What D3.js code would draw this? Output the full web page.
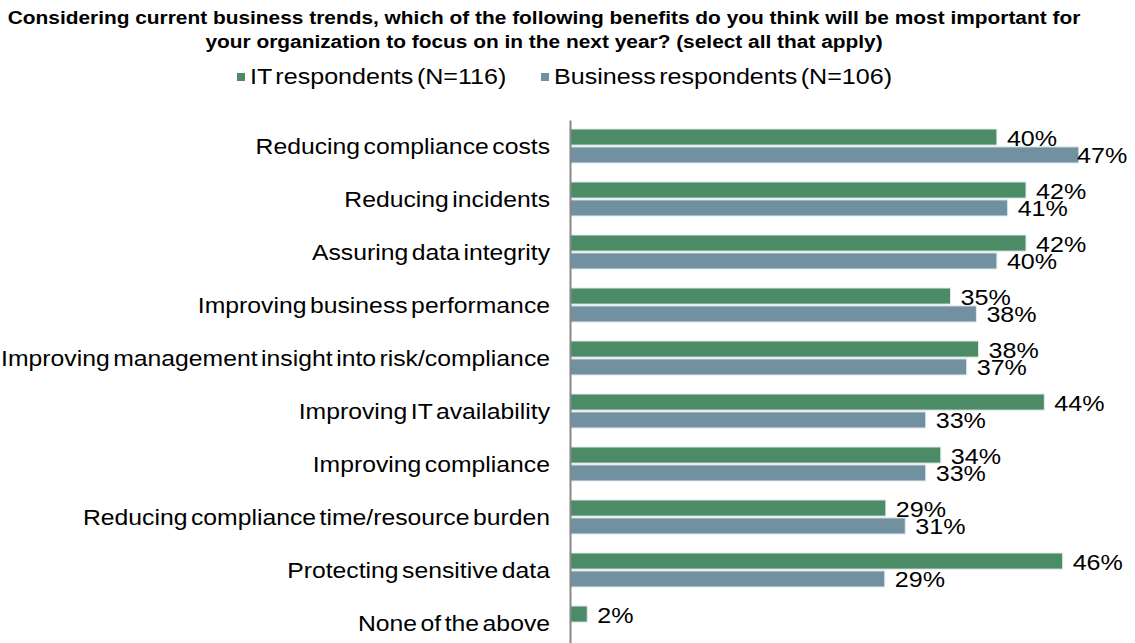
<!DOCTYPE html>
<html>
<head>
<meta charset="utf-8">
<script src="https://d3js.org/d3.v7.min.js"></script>
<style>
body { margin: 0; background: #fff; }
svg { font-family: "Liberation Sans", Arial, sans-serif; }
.title { font-weight: bold; font-size: 18px; fill: #000; }
.lbl { font-size: 22px; fill: #000; word-spacing: -3px; }
.val { font-size: 22px; fill: #000; }
.axis text { font-size: 22px; fill: #000; word-spacing: -3px; }
</style>
</head>
<body>
<svg id="chart" width="1135" height="643"></svg>
<script>

var categories = ["Reducing compliance costs", "Reducing incidents", "Assuring data integrity",
  "Improving business performance", "Improving management insight into risk/compliance",
  "Improving IT availability", "Improving compliance", "Reducing compliance time/resource burden",
  "Protecting sensitive data", "None of the above"];
var seriesNames = ["IT respondents (N=116)", "Business respondents (N=106)"];
var itValues = [39.6, 42.3, 42.3, 35.3, 37.9, 44.0, 34.4, 29.3, 45.7, 1.6];
var bizValues = [47.2, 40.6, 39.6, 37.7, 36.8, 33.0, 33.0, 31.1, 29.2, null];
var colors = ["#4b8b65", "#7191a1"];
var titleLines = ["Considering current business trends, which of the following benefits do you think will be most important for",
  "your organization to focus on in the next year? (select all that apply)"];

// the source text is a bit wider than normal Arial
var sx = 1.14, sxAxis = 1.125;
function at(px, py, s) { return "translate(" + px + "," + py + ") scale(" + (s || sx) + ",1)"; }

var svg = d3.select("#chart");

svg.selectAll(".title").data(titleLines).enter().append("text")
  .attr("class", "title")
  .attr("transform", function(d, i) { return at(544, 24 + i * 24, 1.16); })
  .attr("text-anchor", "middle")
  .text(function(d) { return d; });

// legend
var leg = svg.append("g");
var legX = [237, 541];
seriesNames.forEach(function(s, i) {
  leg.append("rect").attr("x", legX[i]).attr("y", 73).attr("width", 8).attr("height", 8).attr("fill", colors[i]);
  leg.append("text").attr("class", "lbl").attr("transform", at(legX[i] + 13, 77))
    .attr("dominant-baseline", "central").text(s);
});

var x = d3.scaleLinear().domain([0, 50]).range([570, 1109]);
var y = d3.scaleBand().domain(categories).range([120, 650]);
var inner = d3.scaleBand().domain([0, 1]).range([9, 43]).paddingInner(0.1);

var groups = svg.selectAll(".grp").data(categories).enter().append("g")
  .attr("transform", function(d) { return "translate(0," + y(d) + ")"; });

[itValues, bizValues].forEach(function(vals, si) {
  groups.filter(function(d, i) { return vals[i] != null; })
    .append("rect")
    .attr("x", x(0))
    .attr("y", inner(si))
    .attr("width", function(d) { return x(vals[categories.indexOf(d)]) - x(0); })
    .attr("height", inner.bandwidth())
    .attr("fill", colors[si])
    .attr("stroke", "#e3eaee").attr("stroke-width", 1);
  // labels get pushed back so they stay inside the chart, like excel does
  groups.filter(function(d, i) { return vals[i] != null; })
    .append("text")
    .attr("class", "val")
    .attr("transform", function(d) {
      var lx = Math.min(x(vals[categories.indexOf(d)]) + 10, 1077);
      return at(lx, inner(si) + inner.bandwidth() / 2 + 1);
    })
    .attr("dominant-baseline", "central")
    .text(function(d) { return Math.round(vals[categories.indexOf(d)]) + "%"; });
});

var axis = svg.append("g").attr("class", "axis")
  .attr("transform", "translate(" + x(0) + ",0)")
  .call(d3.axisLeft(y).tickSize(0).tickPadding(20));
axis.select(".domain").attr("stroke", "#888").attr("stroke-width", 2);
axis.selectAll("text").attr("font-family", null).attr("font-size", null)
  .attr("x", -20 / sxAxis).attr("dy", "0.35em")
  .attr("transform", "scale(" + sxAxis + ",1)");

</script>
</body>
</html>
